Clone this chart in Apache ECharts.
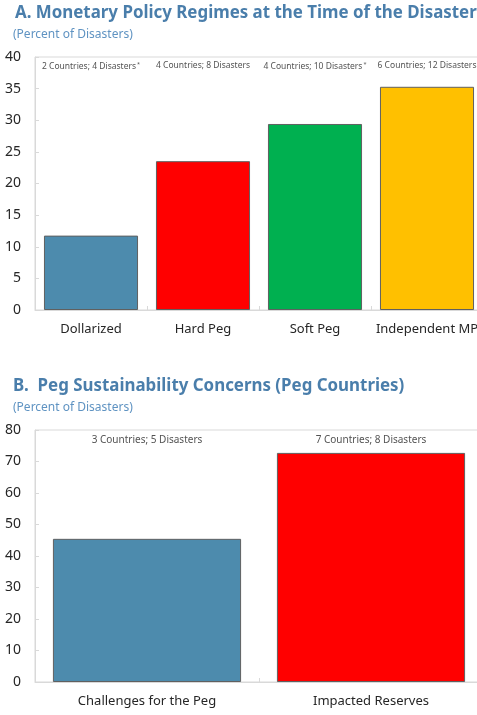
<!DOCTYPE html>
<html>
<head>
<meta charset="utf-8">
<script src="https://cdn.jsdelivr.net/npm/echarts@6/dist/echarts.min.js"></script>
<style>
  html, body { margin: 0; padding: 0; background: #fff; }
  #chart { width: 477px; height: 715px; }
</style>
</head>
<body>
<div id="chart"></div>
<script>
// Panel A: monetary policy regimes (percent of disasters)
const regimeCategories = ['Dollarized', 'Hard Peg', 'Soft Peg', 'Independent MP'];
const regimeValues = [11.76, 23.53, 29.41, 35.29];
const regimeNotes = ['2 Countries; 4 Disasters', '4 Countries; 8 Disasters', '4 Countries; 10 Disasters', '6 Countries; 12 Disasters'];
const regimeNoteStar = [true, false, true, false];
const regimeTicks = { min: 0, max: 40, interval: 5 };

// Panel B: peg sustainability concerns (percent of disasters)
const pegCategories = ['Challenges for the Peg', 'Impacted Reserves'];
const pegValues = [45.45, 72.73];
const pegNotes = ['3 Countries; 5 Disasters', '7 Countries; 8 Disasters'];
const pegNoteStar = [false, false];
const pegTicks = { min: 0, max: 80, interval: 10 };

const regimeColors = ['#4D8BAD', '#FF0000', '#00B050', '#FFC000'];
const pegColors = ['#4D8BAD', '#FF0000'];

const FONT = '"Noto Sans", "Open Sans", sans-serif';
const TITLE_COLOR = '#4A7EAB';
const SUB_COLOR = '#5F93C2';
const GRID_LINE = '#D9D9D9';

function noteFormatter(notes, stars) {
  return function (p) {
    const t = notes[p.dataIndex];
    return stars[p.dataIndex] ? '{n|' + t + '}{s|*}' : '{n|' + t + '}';
  };
}

function axesFor(gridIndex, categories, ticks) {
  return {
    x: {
      type: 'category', gridIndex: gridIndex, data: categories,
      axisLine: { lineStyle: { color: GRID_LINE } },
      axisTick: { show: true, inside: true, length: 4, lineStyle: { color: GRID_LINE } },
      axisLabel: { color: '#262626', fontSize: 13, fontFamily: FONT, margin: 13, interval: 0, hideOverlap: false }
    },
    y: {
      type: 'value', gridIndex: gridIndex, min: ticks.min, max: ticks.max, interval: ticks.interval,
      splitLine: { show: false },
      axisLine: { show: true, lineStyle: { color: GRID_LINE } },
      axisTick: { show: true, inside: true, length: 4, lineStyle: { color: GRID_LINE } },
      axisLabel: { color: '#262626', fontSize: 14, fontFamily: FONT, margin: 14 }
    }
  };
}

const axA = axesFor(0, regimeCategories, regimeTicks);
const axB = axesFor(1, pegCategories, pegTicks);

function barSeries(idx, values, colors) {
  return {
    type: 'bar', xAxisIndex: idx, yAxisIndex: idx,
    barCategoryGap: '16%',
    data: values.map((v, i) => ({ value: v, itemStyle: { color: colors[i] } })),
    itemStyle: { borderColor: '#606060', borderWidth: 1 },
    emphasis: { disabled: true },
    silent: true
  };
}

function noteSeries(idx, notes, stars, top, fontSize, dist) {
  return {
    type: 'scatter', xAxisIndex: idx, yAxisIndex: idx,
    symbolSize: 0,
    itemStyle: { color: 'transparent' },
    data: notes.map(() => top),
    label: {
      show: true, position: 'bottom', distance: dist,
      formatter: noteFormatter(notes, stars),
      rich: {
        n: { fontSize: fontSize, color: '#262626', fontFamily: FONT },
        s: { fontSize: fontSize - 3, color: '#262626', fontFamily: FONT, verticalAlign: 'top', padding: [0, 0, 6, 1] }
      }
    },
    silent: true
  };
}

const titleStyle = { color: TITLE_COLOR, fontSize: 16.9, fontWeight: 'bold', fontFamily: FONT };
const subStyle = { color: SUB_COLOR, fontSize: 12, fontWeight: 'normal', fontFamily: FONT };

const chart = echarts.init(document.getElementById('chart'), null, { renderer: 'canvas' });
chart.setOption({
  animation: false,
  backgroundColor: '#fff',
  title: [
    { text: 'A. Monetary Policy Regimes at the Time of the Disaster', left: 15, top: 5, padding: 0, textStyle: titleStyle },
    { text: '(Percent of Disasters)', left: 13, top: 29, padding: 0, textStyle: subStyle },
    { text: 'B.  Peg Sustainability Concerns (Peg Countries)', left: 13, top: 378, padding: 0, textStyle: titleStyle },
    { text: '(Percent of Disasters)', left: 13, top: 402, padding: 0, textStyle: subStyle }
  ],
  grid: [
    { left: 35, top: 57, width: 448, height: 253, outerBoundsMode: 'none', containLabel: false,
      show: true, borderColor: GRID_LINE, borderWidth: 1, backgroundColor: 'transparent' },
    { left: 35, top: 430, width: 448, height: 252, outerBoundsMode: 'none', containLabel: false,
      show: true, borderColor: GRID_LINE, borderWidth: 1, backgroundColor: 'transparent' }
  ],
  xAxis: [axA.x, axB.x],
  yAxis: [axA.y, axB.y],
  series: [
    barSeries(0, regimeValues, regimeColors),
    noteSeries(0, regimeNotes, regimeNoteStar, regimeTicks.max, 8.5, 4),
    barSeries(1, pegValues, pegColors),
    noteSeries(1, pegNotes, pegNoteStar, pegTicks.max, 10, 5)
  ]
});
</script>
</body>
</html>
